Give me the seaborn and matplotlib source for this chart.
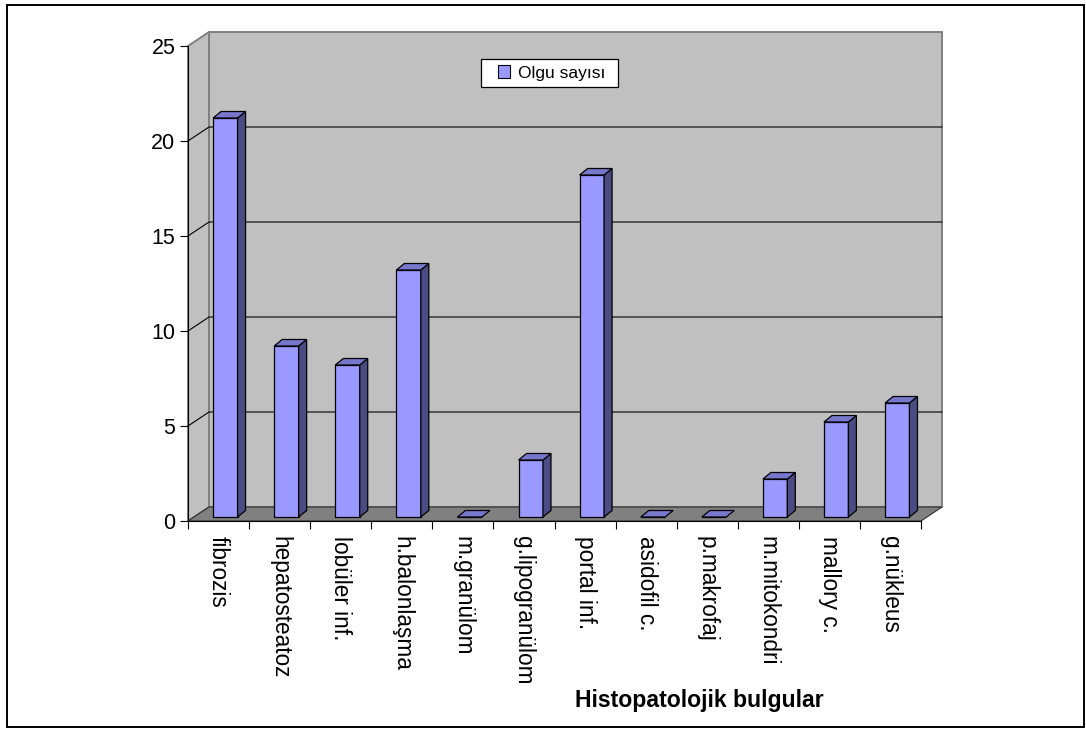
import numpy as np
import pandas as pd
import matplotlib
matplotlib.use("Agg")
import matplotlib.pyplot as plt
from matplotlib.patches import Polygon, Rectangle, Patch
from matplotlib.transforms import Affine2D, IdentityTransform
from matplotlib.lines import Line2D
import seaborn as sns

# Data
categories = ["fibrozis", "hepatosteatoz", "lobüler inf.", "h.balonlaşma", "m.granülom",
              "g.lipogranülom", "portal inf.", "asidofil c.", "p.makrofaj", "m.mitokondri",
              "mallory c.", "g.nükleus"]
counts = [21, 9, 8, 13, 0, 3, 18, 0, 0, 2, 5, 6]
y_ticks = [0, 5, 10, 15, 20, 25]
series_name = "Olgu sayısı"
x_title = "Histopatolojik bulgular"

# Style
sns.set_style("white")
plt.rcParams["font.family"] = ["Liberation Sans", "DejaVu Sans"]
plt.rcParams["text.color"] = "black"
plt.rcParams["axes.labelcolor"] = "black"
plt.rcParams["xtick.color"] = "black"
plt.rcParams["ytick.color"] = "black"

FRONT = "#9999FF"
TOP = "#7777CC"
SIDE = "#4C4C85"
WALL = "#C0C0C0"
FLOOR = "#808080"
WALL_EDGE = "#808080"

# pseudo-3D offsets in pixels (display coords, y up)
WALL_DX, WALL_DY = 21, 14
BAR_DX, BAR_DY = 6.8, 4.0
DEPTH_DX, DEPTH_DY = 8.0, 6.5

W, H = 1086, 729
fig = plt.figure(figsize=(W / 100, H / 100), dpi=100)
ax = fig.add_axes([188 / W, 1 - 521 / H, (921 - 188) / W, (521 - 46) / H])
ax.set_facecolor("none")

df = pd.DataFrame({"bulgu": categories, "olgu": counts})
sns.barplot(data=df, x="bulgu", y="olgu", order=categories, color=FRONT,
            saturation=1, width=0.40, edgecolor="black", linewidth=0.9,
            ax=ax, zorder=3)
bars = list(ax.patches)

ax.set_xlim(-0.5, len(categories) - 0.5)
ax.set_ylim(y_ticks[0], y_ticks[-1])


def px(x, y):
    return ax.transData.transform((x, y))


def poly(points, face, edge, lw, z):
    p = Polygon(np.asarray(points), closed=True, facecolor=face, edgecolor=edge,
                linewidth=lw, transform=IdentityTransform(), clip_on=False, zorder=z)
    ax.add_patch(p)


def seg(points, color, lw, z):
    pts = np.asarray(points)
    ln = Line2D(pts[:, 0], pts[:, 1], color=color, linewidth=lw,
                transform=IdentityTransform(), clip_on=False, zorder=z)
    ax.add_line(ln)


L, B = px(-0.5, y_ticks[0])
R, T = px(len(categories) - 0.5, y_ticks[-1])

# back wall, side wall and floor
poly([(L + WALL_DX, B + WALL_DY), (R + WALL_DX, B + WALL_DY),
      (R + WALL_DX, T + WALL_DY), (L + WALL_DX, T + WALL_DY)], WALL, WALL_EDGE, 1.4, 0.5)
poly([(L, B), (L + WALL_DX, B + WALL_DY), (L + WALL_DX, T + WALL_DY), (L, T)],
     WALL, WALL_EDGE, 1.4, 0.5)
poly([(L, B), (R, B), (R + WALL_DX, B + WALL_DY), (L + WALL_DX, B + WALL_DY)],
     FLOOR, "#303030", 0.8, 0.6)

# gridlines on the walls
for v in y_ticks[1:-1]:
    _, yv = px(0, v)
    seg([(L, yv), (L + WALL_DX, yv + WALL_DY), (R + WALL_DX, yv + WALL_DY)], "black", 0.8, 0.7)

# bars with top and side faces
for p in bars:
    p.set_transform(ax.transData + Affine2D().translate(BAR_DX, BAR_DY))
    p.set_clip_on(False)
    x0, x1 = p.get_x(), p.get_x() + p.get_width()
    h = p.get_height()
    a = px(x0, h) + (BAR_DX, BAR_DY)
    b = px(x1, h) + (BAR_DX, BAR_DY)
    c = px(x1, 0) + (BAR_DX, BAR_DY)
    d = np.array([DEPTH_DX, DEPTH_DY])
    if h > 0:
        poly([c, b, b + d, c + d], SIDE, "black", 0.9, 3)
    poly([a, b, b + d, a + d], TOP, "black", 0.9, 3)

# axes styling
for s in ["top", "right"]:
    ax.spines[s].set_visible(False)
for s in ["left", "bottom"]:
    ax.spines[s].set_color("black")
    ax.spines[s].set_linewidth(0.8)
    ax.spines[s].set_zorder(4)

ax.set_yticks(y_ticks)
ax.tick_params(axis="y", length=6, width=0.8, pad=3, labelsize=15.5, colors="black",
               left=True)
ax.set_xticks(range(len(categories)))
ax.set_xticklabels(categories, rotation=270, fontsize=16.3)
ax.set_xticks(np.arange(-0.5, len(categories), 1.0), minor=True)
ax.tick_params(axis="x", which="major", length=0, pad=11)
ax.tick_params(axis="x", which="minor", length=6, width=0.8, direction="out",
               bottom=True, color="black")
ax.set_xlabel("")
ax.set_ylabel("")
ax.grid(False)

# legend: entry plus a separate rectangular frame
ax.add_patch(Rectangle((481 / W, 1 - 87 / H), (618 - 481) / W, 28 / H,
                       transform=fig.transFigure, facecolor="white",
                       edgecolor="black", linewidth=0.9, zorder=9, clip_on=False))
leg = ax.legend(handles=[Patch(facecolor=FRONT, edgecolor="black", linewidth=0.8)],
                labels=[series_name], loc="center",
                bbox_to_anchor=(551.5 / W, 1 - 73 / H), bbox_transform=fig.transFigure,
                fontsize=12.5, frameon=False, handlelength=0.7, handleheight=0.7,
                handletextpad=0.45, borderpad=0.2, borderaxespad=0)
leg.set_zorder(10)

fig.text(699.5 / W, 1 - 700 / H, x_title, ha="center", va="center",
         fontsize=16.6, fontweight="bold")

fig.add_artist(Rectangle((7 / W, 2 / H), (1084 - 7) / W, (724 - 2) / H,
                         transform=fig.transFigure, fill=False, edgecolor="black",
                         linewidth=1.4))

fig.savefig("out.png", dpi=100)
